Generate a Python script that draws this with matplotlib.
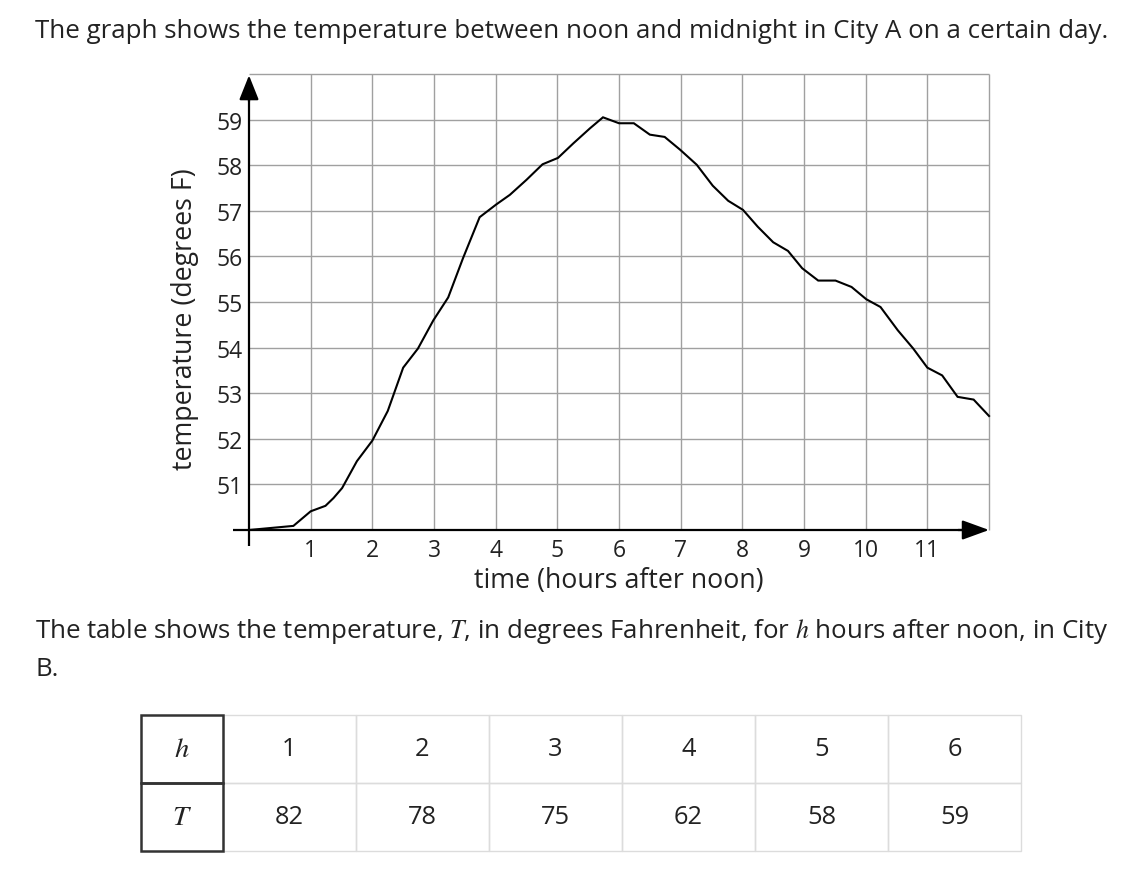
import matplotlib
matplotlib.use("Agg")
import matplotlib.pyplot as plt
from matplotlib.patches import Rectangle

# ---------------- data ----------------
time_h = [0.0, 0.72, 1.0, 1.24, 1.37, 1.51, 1.75, 2.0, 2.25, 2.5, 2.74, 2.99,
          3.23, 3.47, 3.74, 4.01, 4.23, 4.5, 4.76, 5.01, 5.26, 5.53, 5.74,
          6.0, 6.24, 6.5, 6.74, 6.99, 7.26, 7.52, 7.77, 8.01, 8.25, 8.5,
          8.74, 8.97, 9.23, 9.51, 9.77, 10.01, 10.24, 10.52, 10.77, 11.0,
          11.24, 11.49, 11.75, 12.0]
temp_f = [50.0, 50.09, 50.41, 50.53, 50.70, 50.92, 51.51, 51.96, 52.61, 53.56,
          53.98, 54.6, 55.1, 55.96, 56.86, 57.14, 57.35, 57.68, 58.02, 58.16,
          58.48, 58.81, 59.05, 58.92, 58.92, 58.67, 58.62, 58.34, 58.01,
          57.55, 57.22, 57.02, 56.65, 56.31, 56.12, 55.74, 55.47, 55.47,
          55.33, 55.06, 54.89, 54.38, 53.98, 53.56, 53.39, 52.92, 52.86, 52.5]

x_ticks = [1, 2, 3, 4, 5, 6, 7, 8, 9, 10, 11]
y_ticks = [51, 52, 53, 54, 55, 56, 57, 58, 59]
x_grid = [1, 2, 3, 4, 5, 6, 7, 8, 9, 10, 11, 12]
y_grid = [51, 52, 53, 54, 55, 56, 57, 58, 59, 60]

table_h = [1, 2, 3, 4, 5, 6]
table_T = [82, 78, 75, 62, 58, 59]

title_text = "The graph shows the temperature between noon and midnight in City A on a certain day."
para_line1 = "The table shows the temperature, $T$, in degrees Fahrenheit, for $h$ hours after noon, in City"
para_line2 = "B."
x_label = "time (hours after noon)"
y_label = "temperature (degrees F)"

# ---------------- style ----------------
plt.rcParams['font.family'] = ['Open Sans', 'DejaVu Sans']
plt.rcParams['mathtext.fontset'] = 'stix'
W, H = 1138, 878
TXT = '#222222'
FS_TEXT = 18.6
FS_TICK = 16.5
FS_LABEL = 19.3
FS_TABLE = 18.3
FS_TABLE_HDR = 20.5

fig = plt.figure(figsize=(W / 100, H / 100), dpi=100)
fig.patch.set_facecolor('white')

def fx(px):
    return px / W

def fy(py):
    return 1 - py / H

# ---------------- chart ----------------
x0, x1 = -0.30, 12.05
y0, y1 = 49.6, 60.1
px_per_x = 61.67
px_per_y = 45.6
left_px = 249 + px_per_x * x0
right_px = 249 + px_per_x * x1
bot_px = 531 - px_per_y * (y0 - 50)
top_px = 531 - px_per_y * (y1 - 50)
ax = fig.add_axes([fx(left_px), fy(bot_px), (right_px - left_px) / W, (bot_px - top_px) / H])
ax.set_xlim(x0, x1)
ax.set_ylim(y0, y1)
for s in ax.spines.values():
    s.set_visible(False)
ax.set_xticks([])
ax.set_yticks([])
ax.patch.set_alpha(0)

grid_c = '#a0a0a0'
ax.vlines(x_grid, 50, 60, colors=grid_c, lw=1.0, zorder=1)
ax.hlines(y_grid, 0, 12, colors=grid_c, lw=1.0, zorder=1)

# axes with arrows
ax.plot([-0.26, 11.7], [50, 50], color='black', lw=1.6, zorder=3, solid_capstyle='butt')
ax.plot([0, 0], [49.65, 59.6], color='black', lw=1.6, zorder=3, solid_capstyle='butt')
ax.annotate('', xy=(12, 50), xytext=(11.5, 50),
            arrowprops=dict(arrowstyle='-|>,head_length=1.1,head_width=0.4',
                            color='black', lw=1.6, mutation_scale=15,
                            shrinkA=0, shrinkB=0), zorder=4)
ax.annotate('', xy=(0, 59.97), xytext=(0, 59.4),
            arrowprops=dict(arrowstyle='-|>,head_length=1.0,head_width=0.4',
                            color='black', lw=1.6, mutation_scale=15,
                            shrinkA=0, shrinkB=0), zorder=4)

ax.plot(time_h, temp_f, color='black', lw=1.5, zorder=5, solid_joinstyle='miter')

for t in x_ticks:
    ax.annotate(str(t), (t, 50), xytext=(0, -6), textcoords='offset points',
                ha='center', va='top', fontsize=FS_TICK, color=TXT)
for t in y_ticks:
    ax.annotate(str(t), (0, t), xytext=(-4.5, 0), textcoords='offset points',
                ha='right', va='center_baseline', fontsize=FS_TICK, color=TXT)

fig.text(fx(619), fy(581), x_label, ha='center', va='center', fontsize=FS_LABEL, color=TXT)
fig.text(fx(185), fy(319), y_label, ha='center', va='center', rotation=90,
         fontsize=FS_LABEL, color=TXT)

# ---------------- texts ----------------
fig.text(fx(35), fy(31), title_text, ha='left', va='center', fontsize=FS_TEXT, color=TXT)
fig.text(fx(35), fy(632), para_line1, ha='left', va='center', fontsize=FS_TEXT, color=TXT)
fig.text(fx(35), fy(670), para_line2, ha='left', va='center', fontsize=FS_TEXT, color=TXT)

# ---------------- table ----------------
tax = fig.add_axes([0, 0, 1, 1])
tax.set_xlim(0, W)
tax.set_ylim(H, 0)
tax.axis('off')
tax.patch.set_alpha(0)

hdr_l, hdr_r = 141, 223
col_w = (1021 - 223) / len(table_h)
row_t, row_m, row_b = 716, 784, 852
light = '#dcdcdc'
for i in range(len(table_h)):
    cl = hdr_r + i * col_w
    for (rt, rb) in [(row_t, row_m), (row_m, row_b)]:
        tax.add_patch(Rectangle((cl, rt), col_w, rb - rt, fill=False,
                                edgecolor=light, lw=1.0, zorder=1))
for (rt, rb) in [(row_t, row_m), (row_m, row_b)]:
    tax.add_patch(Rectangle((hdr_l, rt), hdr_r - hdr_l, rb - rt, fill=False,
                            edgecolor='#333333', lw=1.8, zorder=2))
tax.text((hdr_l + hdr_r) / 2, (row_t + row_m) / 2, '$h$', ha='center', va='center',
         fontsize=FS_TABLE_HDR, color=TXT)
tax.text((hdr_l + hdr_r) / 2, (row_m + row_b) / 2, '$T$', ha='center', va='center',
         fontsize=FS_TABLE_HDR, color=TXT)
for i, (hv, tv) in enumerate(zip(table_h, table_T)):
    cx = hdr_r + (i + 0.5) * col_w
    tax.text(cx, (row_t + row_m) / 2, str(hv), ha='center', va='center',
             fontsize=FS_TABLE, color=TXT)
    tax.text(cx, (row_m + row_b) / 2, str(tv), ha='center', va='center',
             fontsize=FS_TABLE, color=TXT)

fig.savefig('out.png', dpi=100, facecolor='white')
